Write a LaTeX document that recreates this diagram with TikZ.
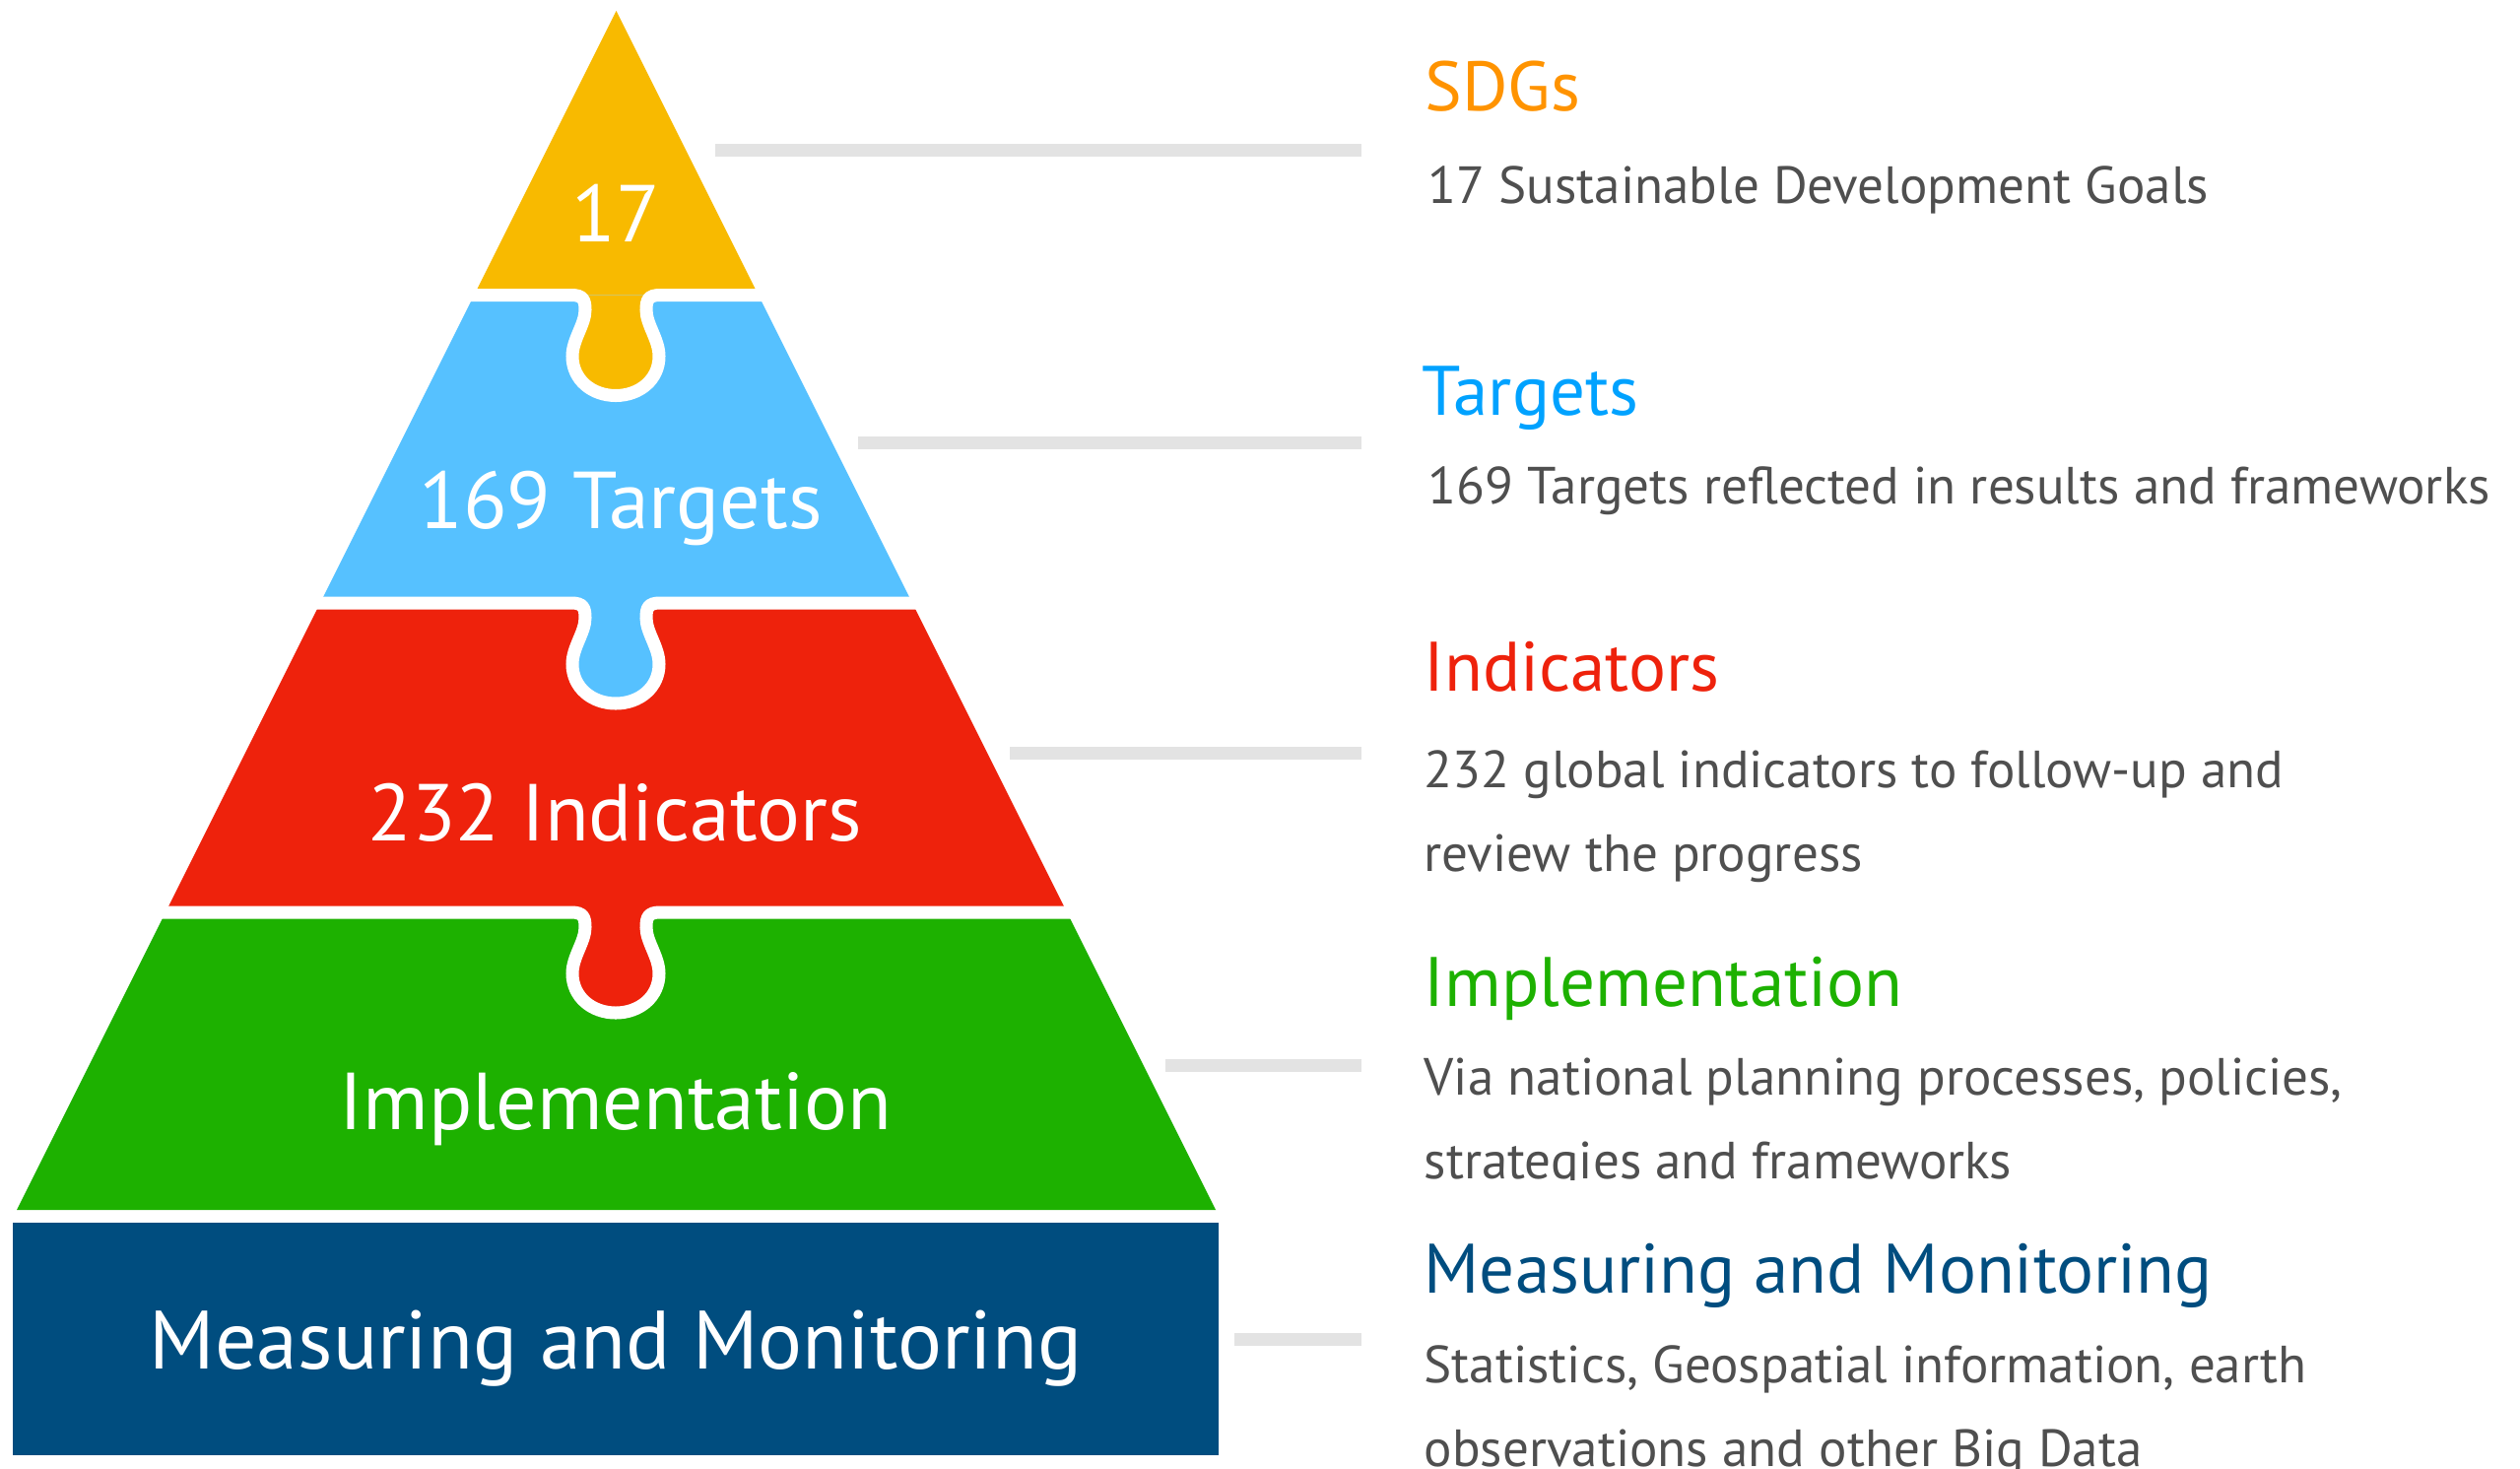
\documentclass[tikz,border=0pt]{standalone}
\usepackage{fontspec}
\setmainfont{PT Sans}
\usetikzlibrary{positioning}
\definecolor{sdgyellow}{HTML}{F8BA00}
\definecolor{sdgsky}{HTML}{56C1FF}
\definecolor{sdgred}{HTML}{EE220C}
\definecolor{sdggreen}{HTML}{1DB100}
\definecolor{sdgnavy}{HTML}{004D7F}
\definecolor{sdgorange}{HTML}{FF9300}
\definecolor{sdgblue}{HTML}{00A2FF}
\definecolor{leadgrey}{HTML}{E3E3E3}
\definecolor{textgrey}{HTML}{4F4F4F}
\tikzstyle{gap} = [draw=white, line width=0.13cm]
\tikzstyle{lead} = [draw=leadgrey, line width=0.13cm]
\tikzstyle{tierlabel} = [anchor=base, text=white, inner sep=0pt, font=\fontsize{23.3}{28}\selectfont]
\tikzstyle{head} = [anchor=base west, inner sep=0pt, font=\fontsize{20.2}{25}\selectfont]
\tikzstyle{desc} = [anchor=base west, inner sep=0pt, align=left, text=textgrey, font=\fontsize{15.1}{23.9}\selectfont]
\newcommand{\knob}[1]{(580,#1) .. controls (592,#1) and (594,#1+5) .. (594,#1+15) .. controls (594,#1+30) and (581,#1+45) .. (581,#1+62) .. controls (581,#1+86) and (601,#1+102) .. (625,#1+102) .. controls (649,#1+102) and (669,#1+86) .. (669,#1+62) .. controls (669,#1+45) and (656,#1+30) .. (656,#1+15) .. controls (656,#1+5) and (658,#1) .. (670,#1)}

\begin{document}
\begin{tikzpicture}[x=0.01cm, y=-0.01cm]
\useasboundingbox (0,0) rectangle (2558,1490);
\clip (0,0) rectangle (2558,1490);
% pyramid
\fill[sdgyellow] (625.5,11) -- (769.75,299.5) -- (481.25,299.5) -- cycle;
\fill[sdgsky] (481.25,299.5) -- (769.75,299.5) -- (926,612) -- (325,612) -- cycle;
\fill[sdgred] (325,612) -- (926,612) -- (1083,926) -- (168,926) -- cycle;
\fill[sdggreen] (168,926) -- (1083,926) -- (1234,1228) -- (17,1228) -- cycle;
\fill[sdgnavy] (13,1241) rectangle (1237,1477);
\fill[sdgyellow] \knob{299.5} -- cycle;
\fill[sdgsky] \knob{612} -- cycle;
\fill[sdgred] \knob{926} -- cycle;
\draw[gap] (460,299.5) -- \knob{299.5} -- (790,299.5);
\draw[gap] (300,612) -- \knob{612} -- (950,612);
\draw[gap] (140,926) -- \knob{926} -- (1110,926);

\node[tierlabel] (n17) at (625,245) {17};
\node[tierlabel] (ntargets) at (630,536) {169 Targets};
\node[tierlabel] (nindic) at (624,853) {232 Indicators};
\node[tierlabel] (nimpl) at (625,1146) {Implementation};
\node[tierlabel, font=\fontsize{23.9}{30}\selectfont] (nmeas) at (625,1389) {Measuring and Monitoring};

\node[head, text=sdgorange] (hsdg) at (1446,112) {SDGs};
\node[desc] (dsdg) at (1449,206) {17 Sustainable Development Goals};
\node[head, text=sdgblue] (htargets) at (1443,421) {Targets};
\node[desc] (dtargets) at (1449,511) {169 Targets reflected in results and frameworks};
\node[head, text=sdgred] (hindic) at (1445,701) {Indicators};
\node[desc] (dindic) at (1445,884) {232 global indicators to follow-up and\\review the progress};
\node[head, text=sdggreen] (himpl) at (1445,1021) {Implementation};
\begin{scope}
\clip (1400,1030) rectangle (2558,1197);
\node[desc] (dimpl) at (1445,1196) {Via national planning processes, policies,\\strategies and frameworks};
\end{scope}
\node[head, text=sdgnavy] (hmeas) at (1445,1312) {Measuring and Monitoring};
\node[desc] (dmeas) at (1445,1488) {Statistics, Geospatial information, earth\\observations and other Big Data};

\coordinate (lineend) at (1382,0);
\coordinate (l1) at (726,152);
\coordinate (l2) at (871,449);
\coordinate (l3) at (1025,764);
\coordinate (l4) at (1183,1081);
\coordinate (l5) at (1253,1359);
\foreach \s in {l1,l2,l3,l4,l5}
  \draw[lead] (\s) -- (\s -| lineend);
\end{tikzpicture}
\end{document}
